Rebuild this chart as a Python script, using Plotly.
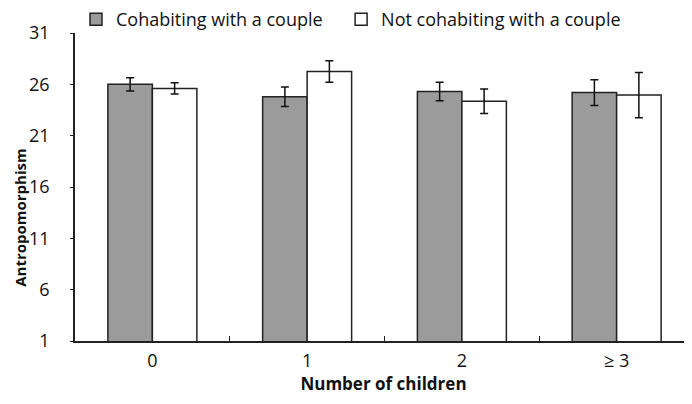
import plotly.graph_objects as go

categories = ["0", "1", "2", "≥ 3"]
cohabiting = [26.0, 24.8, 25.3, 25.2]
cohabiting_err = [0.65, 0.95, 0.9, 1.25]
not_cohabiting = [25.6, 27.25, 24.35, 24.95]
not_cohabiting_err = [0.55, 1.05, 1.2, 2.2]
y_ticks = [1, 6, 11, 16, 21, 26, 31]

FONT = "Open Sans"
fig = go.Figure()
fig.add_trace(go.Bar(
    x=categories, y=cohabiting, name="Cohabiting with a couple", legend="legend",
    showlegend=True,
    marker=dict(color="#9b9b9b", line=dict(color="#222222", width=1.5)),
    error_y=dict(type="data", array=cohabiting_err, color="#111111", thickness=1.5, width=4),
))
fig.add_trace(go.Bar(
    x=categories, y=not_cohabiting, name="Not cohabiting with a couple", legend="legend2",
    showlegend=True,
    marker=dict(color="#ffffff", line=dict(color="#222222", width=1.5)),
    error_y=dict(type="data", array=not_cohabiting_err, color="#111111", thickness=1.5, width=4),
))

leg_common = dict(orientation="h", y=1.0435, xanchor="left", yanchor="middle",
                  xref="container", yref="paper",
                  font=dict(family=FONT, size=18, color="#111111"),
                  itemwidth=30, bgcolor="rgba(0,0,0,0)")

fig.update_layout(
    width=684, height=396,
    margin=dict(l=67, r=0, t=25, b=63, autoexpand=False),
    paper_bgcolor="white", plot_bgcolor="white",
    showlegend=True,
    barmode="group", bargap=0.425, bargroupgap=0,
    font=dict(family=FONT, size=18, color="#111111"),
    legend=dict(x=0.0994, **leg_common),
    legend2=dict(x=0.487, **leg_common),
    xaxis=dict(
        range=[-0.5, 3.487], showline=True, linecolor="#222222", linewidth=1.5,
        ticks="inside", tickson="boundaries", ticklen=5, tickcolor="#222222", tickwidth=1,
        showgrid=False, zeroline=False, ticklabelstandoff=3,
        title=dict(text="<b>Number of children</b>", font=dict(family=FONT, size=17), standoff=6),
    ),
    yaxis=dict(
        range=[1, 31], tickvals=y_ticks, showline=True, linecolor="#222222", linewidth=1.5,
        ticks="outside", ticklen=3, tickcolor="#222222", showgrid=False, zeroline=False,
        ticklabelstandoff=17,
    ),
    annotations=[dict(
        text="<b>Antropomorphism</b>", textangle=-90, showarrow=False,
        xref="paper", yref="paper", x=-0.0891, y=0.40,
        xanchor="center", yanchor="middle",
        font=dict(family=FONT, size=15, color="#111111"),
    )],
)
fig.write_html("out.html")
